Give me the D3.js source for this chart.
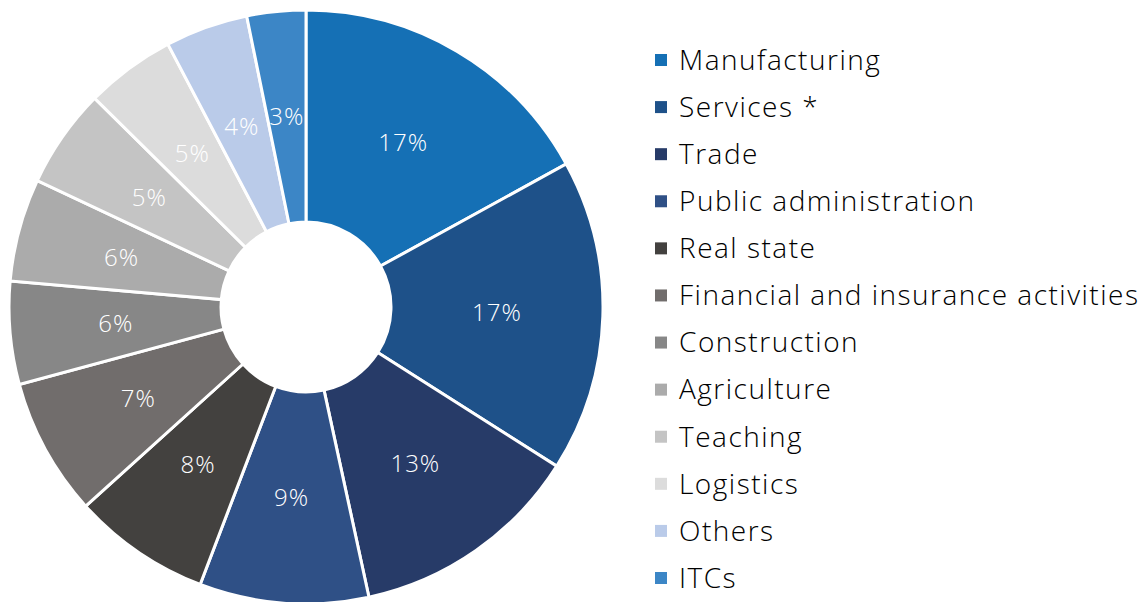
<!DOCTYPE html>
<html>
<head>
<meta charset="utf-8">
<script src="https://d3js.org/d3.v7.min.js"></script>
<style>
  body { margin: 0; background: #fff; }
  svg text { font-family: "Open Sans", Lato, sans-serif; font-weight: 300; }
</style>
</head>
<body>
<div id="chart"></div>
<script>
var categories = ["Manufacturing", "Services *", "Trade", "Public administration", "Real state",
    "Financial and insurance activities", "Construction", "Agriculture", "Teaching",
    "Logistics", "Others", "ITCs"];
var shares = [17.0, 17.0, 12.6, 9.2, 7.5, 7.5, 5.6, 5.6, 5.4, 4.9, 4.5, 3.2];
var shareLabels = ["17%", "17%", "13%", "9%", "8%", "7%", "6%", "6%", "5%", "5%", "4%", "3%"];
var colors = ["#1570b5", "#1e5189", "#273b68", "#2f5086", "#43413f", "#716d6c",
    "#878787", "#ababab", "#c4c4c4", "#dcdcdc", "#bacbe9", "#3c86c6"];

var width = 1144, height = 602;
var cx = 306, cy = 307, outerR = 297, innerR = 85;

var svg = d3.select("#chart").append("svg")
    .attr("width", width)
    .attr("height", height);

var data = categories.map(function (c, i) {
    return { name: c, value: shares[i], label: shareLabels[i], color: colors[i] };
});

var pie = d3.pie()
    .sort(null)
    .value(function (d) { return d.value; });

var arc = d3.arc()
    .innerRadius(innerR)
    .outerRadius(outerR);

var g = svg.append("g")
    .attr("transform", "translate(" + cx + "," + cy + ")");

var slices = g.selectAll(".slice")
    .data(pie(data))
    .enter().append("g")
    .attr("class", "slice");

slices.append("path")
    .attr("d", arc)
    .style("fill", function (d) { return d.data.color; })
    .style("stroke", "#fff")
    .style("stroke-width", 3);

slices.append("text")
    .attr("transform", function (d) { return "translate(" + arc.centroid(d) + ")"; })
    .attr("text-anchor", "middle")
    .attr("dy", "0.35em")
    .style("fill", "#fff")
    .style("font-size", "24px")
    .style("letter-spacing", "1px")
    .text(function (d) { return d.data.label; });

// legend
var legendY = d3.scalePoint()
    .domain(categories)
    .range([60, 578]);

var legend = svg.append("g")
    .selectAll(".legend")
    .data(data)
    .enter().append("g")
    .attr("class", "legend")
    .attr("transform", function (d) { return "translate(655," + legendY(d.name) + ")"; });

legend.append("rect")
    .attr("x", 0)
    .attr("y", -6)
    .attr("width", 12)
    .attr("height", 12)
    .style("fill", function (d) { return d.color; });

legend.append("text")
    .attr("x", 24)
    .attr("dy", "0.35em")
    .style("fill", "#000")
    .style("font-size", "28px")
    .style("letter-spacing", "1.5px")
    .text(function (d) { return d.name; });
</script>
</body>
</html>
